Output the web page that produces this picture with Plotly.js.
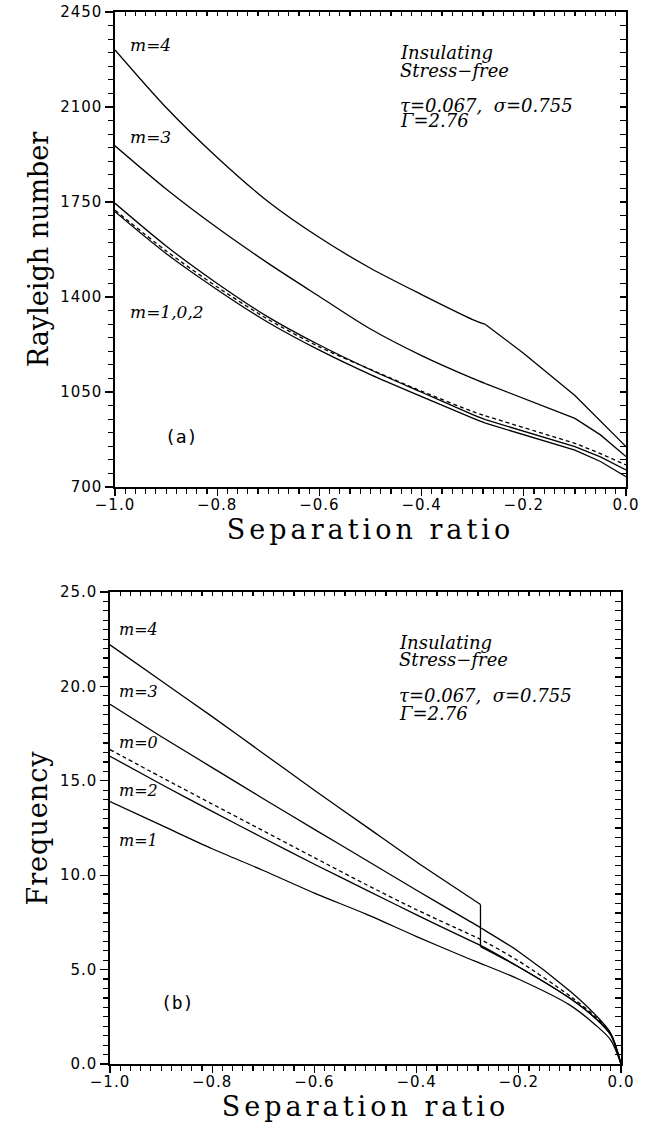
<!DOCTYPE html>
<html>
<head>
<meta charset="utf-8">
<script src="https://cdn.plot.ly/plotly-3.0.1.min.js"></script>
<style>
html,body{margin:0;padding:0;background:#fff;}
#chart{width:659px;height:1122px;}
#chart .xtitle, #chart .x2title{letter-spacing:4px;}
#chart .y2title{letter-spacing:1px;}
#chart .xtick text, #chart .x2tick text, #chart .ytick text, #chart .y2tick text{letter-spacing:1px;}
</style>
</head>
<body>
<div id="chart"></div>
<script>
// ---------- data: panel (a) Rayleigh number ----------
const sepTop = [-1.0, -0.9, -0.8, -0.7, -0.6, -0.5, -0.4, -0.3, -0.275, -0.2, -0.1, -0.05, 0.0];
const rayM4 = [2310, 2098, 1914, 1751, 1619, 1506, 1409, 1317, 1299, 1192, 1037, 942, 849];
const rayM3 = [1957, 1798, 1655, 1524, 1402, 1282, 1184, 1100, 1081, 1026, 953, 892, 812];
const rayM1 = [1745, 1588, 1450, 1326, 1223, 1132, 1049, 967, 948, 905, 849, 811, 763];
const rayM0 = [1720, 1570, 1437, 1317, 1216, 1133, 1053, 978, 962, 919, 861, 823, 781];
const rayM2 = [1714, 1560, 1427, 1306, 1204, 1114, 1033, 954, 935, 892, 836, 794, 738];

// ---------- data: panel (b) Frequency ----------
const sepBot = [-1.0, -0.9, -0.8, -0.7, -0.6, -0.5, -0.4, -0.3, -0.275, -0.2, -0.1, -0.05, -0.02, 0.0];
const sepBotM4 = [-1.0, -0.9, -0.8, -0.7, -0.6, -0.5, -0.4, -0.3, -0.275, -0.275, -0.2, -0.1, -0.05, -0.02, 0.0];
const freqM4 = [22.2, 20.3, 18.4, 16.45, 14.5, 12.6, 10.7, 8.9, 8.45, 6.22, 5.14, 3.48, 2.42, 1.54, 0.0];
const freqM3 = [19.05, 17.35, 15.7, 14.05, 12.43, 10.82, 9.2, 7.62, 7.22, 5.95, 3.87, 2.6, 1.63, 0.0];
const freqM0 = [16.65, 15.2, 13.77, 12.35, 10.93, 9.52, 8.17, 6.92, 6.6, 5.45, 3.6, 2.5, 1.58, 0.0];
const freqM2 = [16.3, 14.82, 13.38, 11.97, 10.58, 9.24, 7.9, 6.6, 6.28, 5.14, 3.48, 2.42, 1.54, 0.0];
const freqM1 = [13.9, 12.65, 11.4, 10.25, 9.05, 7.95, 6.75, 5.6, 5.33, 4.49, 3.12, 2.07, 1.27, 0.0];

// ---------- labels ----------
const xTitle = 'Separation ratio';
const yTitleTop = 'Rayleigh number';
const yTitleBot = 'Frequency';
const infoLines = ['Insulating', 'Stress\u2212free', '\u03C4=0.067,  \u03C3=0.755', '\u0393=2.76'];

const solidL = {color: '#000', width: 1.3, shape: 'linear'};
const solidS = {color: '#000', width: 1.3, shape: 'spline', smoothing: 0.8};
const dashL = {color: '#000', width: 1.3, dash: '4px,3px', shape: 'linear'};
const dashS = {color: '#000', width: 1.3, dash: '4px,3px', shape: 'spline', smoothing: 0.8};

function seg(x, y, i0, i1, line, xa, ya, name) {
  return {x: x.slice(i0, i1 + 1), y: y.slice(i0, i1 + 1), mode: 'lines', line: line,
    xaxis: xa, yaxis: ya, name: name, showlegend: false, hoverinfo: 'skip'};
}
const nT = sepTop.length - 1;
const kT = 8;   // index of -0.275 (kink)
const nB = sepBot.length - 1;
const data = [];
[[rayM4, 'm=4', false], [rayM3, 'm=3', false], [rayM1, 'm=1', false], [rayM0, 'm=0', true], [rayM2, 'm=2', false]].forEach(function (s) {
  data.push(seg(sepTop, s[0], 0, kT, s[2] ? dashS : solidS, 'x', 'y', s[1]));
  data.push(seg(sepTop, s[0], kT, nT, s[2] ? dashL : solidL, 'x', 'y', s[1]));
});
data.push(seg(sepBotM4, freqM4, 0, 8, solidS, 'x2', 'y2', 'm=4'));
data.push(seg(sepBotM4, freqM4, 8, 9, solidL, 'x2', 'y2', 'm=4'));
data.push(seg(sepBotM4, freqM4, 9, sepBotM4.length - 1, solidS, 'x2', 'y2', 'm=4'));
data.push(seg(sepBot, freqM3, 0, nB, solidS, 'x2', 'y2', 'm=3'));
data.push(seg(sepBot, freqM0, 0, nB, dashS, 'x2', 'y2', 'm=0'));
data.push(seg(sepBot, freqM2, 0, nB, solidS, 'x2', 'y2', 'm=2'));
data.push(seg(sepBot, freqM1, 0, nB, solidS, 'x2', 'y2', 'm=1'));
// invisible helpers so the mirrored (inside-tick) axes are drawn
data.push({x: [-1], y: [700], xaxis: 'x3', yaxis: 'y3', mode: 'markers', marker: {opacity: 0}, showlegend: false, hoverinfo: 'skip'});
data.push({x: [-1], y: [0], xaxis: 'x4', yaxis: 'y4', mode: 'markers', marker: {opacity: 0}, showlegend: false, hoverinfo: 'skip'});

const tickFont = {family: 'DejaVu Sans', size: 15, color: '#000'};
const titleFont = {family: 'DejaVu Serif', size: 27, color: '#000'};
const annFont = {family: 'DejaVu Serif', size: 18, color: '#000', style: 'italic'};
const mFontTop = {family: 'DejaVu Serif', size: 17, color: '#000', style: 'italic'};
const mFont = {family: 'DejaVu Serif', size: 16, color: '#000', style: 'italic'};
const tagFont = {family: 'DejaVu Sans Mono', size: 18, color: '#000'};

function baseX(domain, anchor, title) {
  return {domain: domain, anchor: anchor, range: [-1, 0], tick0: -1, dtick: 0.2, tickformat: '.1f',
    ticks: 'outside', ticklen: 7, tickwidth: 1.4, tickcolor: '#000', ticklabelstandoff: -4,
    minor: {dtick: 0.02, ticks: 'outside', ticklen: 5, tickwidth: 1.2, tickcolor: '#000', showgrid: false},
    showline: true, linecolor: '#000', linewidth: 1.6, zeroline: false, showgrid: false,
    tickfont: tickFont, title: {text: title, font: titleFont, standoff: 6}, fixedrange: true};
}
function baseY(domain, anchor, range, dtick, minor, fmt, title) {
  return {domain: domain, anchor: anchor, range: range, tick0: range[0], dtick: dtick, tickformat: fmt,
    ticks: 'outside', ticklen: 8, tickwidth: 1.4, tickcolor: '#000',
    minor: {dtick: minor, ticks: 'outside', ticklen: 5, tickwidth: 1.2, tickcolor: '#000', showgrid: false},
    showline: true, linecolor: '#000', linewidth: 1.6, zeroline: false, showgrid: false,
    tickfont: tickFont, title: {text: title, font: titleFont, standoff: 8}, fixedrange: true};
}
function mirrorX(over, anchor) {
  return {overlaying: over, anchor: anchor, side: 'top', range: [-1, 0], tick0: -1, dtick: 0.02,
    ticks: 'inside', ticklen: 4, tickwidth: 1.2, tickcolor: '#000', showticklabels: false,
    showline: true, linecolor: '#000', linewidth: 1.6, zeroline: false, showgrid: false, fixedrange: true};
}
function mirrorY(over, anchor, range, dtick) {
  return {overlaying: over, anchor: anchor, side: 'right', range: range, tick0: range[0], dtick: dtick,
    ticks: 'inside', ticklen: 6, tickwidth: 1.2, tickcolor: '#000', showticklabels: false,
    showline: true, linecolor: '#000', linewidth: 1.6, zeroline: false, showgrid: false, fixedrange: true};
}

const domXTop = [115/659, 626/659];
const domYTop = [1 - 487/1122, 1 - 12/1122];
const domXBot = [110/659, 621/659];
const domYBot = [1 - 1064/1122, 1 - 592/1122];

function ann(x, y, text, xr, yr, font, xanchor) {
  return {x: x, y: y, xref: xr, yref: yr, text: text, showarrow: false, font: font, xanchor: xanchor || 'left', yanchor: 'middle'};
}
const annotations = [
  ann(-0.975, 2328, '<i>m</i>=4', 'x', 'y', mFontTop),
  ann(-0.975, 1990, '<i>m</i>=3', 'x', 'y', mFontTop),
  ann(-0.975, 1346, '<i>m</i>=1,0,2', 'x', 'y', mFontTop),
  ann(-0.869, 885, '(a)', 'x', 'y', tagFont, 'center'),
  ann(-0.446, 2299, infoLines[0], 'x', 'y', annFont),
  ann(-0.446, 2236, infoLines[1], 'x', 'y', annFont),
  ann(-0.446, 2107, infoLines[2], 'x', 'y', annFont),
  ann(-0.446, 2050, infoLines[3], 'x', 'y', annFont),
  ann(-0.987, 23.0, '<i>m</i>=4', 'x2', 'y2', mFont),
  ann(-0.987, 19.72, '<i>m</i>=3', 'x2', 'y2', mFont),
  ann(-0.987, 17.02, '<i>m</i>=0', 'x2', 'y2', mFont),
  ann(-0.987, 14.51, '<i>m</i>=2', 'x2', 'y2', mFont),
  ann(-0.987, 11.86, '<i>m</i>=1', 'x2', 'y2', mFont),
  ann(-0.868, 3.28, '(b)', 'x2', 'y2', tagFont, 'center'),
  ann(-0.439, 22.3, infoLines[0], 'x2', 'y2', annFont),
  ann(-0.439, 21.4, infoLines[1], 'x2', 'y2', annFont),
  ann(-0.439, 19.54, infoLines[2], 'x2', 'y2', annFont),
  ann(-0.439, 18.54, infoLines[3], 'x2', 'y2', annFont)
];

const layout = {
  width: 659, height: 1122,
  margin: {l: 0, r: 0, t: 0, b: 0},
  paper_bgcolor: '#fff', plot_bgcolor: '#fff',
  showlegend: false,
  xaxis: baseX(domXTop, 'y', xTitle),
  yaxis: baseY(domYTop, 'x', [700, 2450], 350, 50, 'd', yTitleTop),
  xaxis2: baseX(domXBot, 'y2', xTitle),
  yaxis2: baseY(domYBot, 'x2', [0, 25], 5, 0.5, '.1f', yTitleBot),
  xaxis3: mirrorX('x', 'y3'),
  yaxis3: mirrorY('y', 'x3', [700, 2450], 50),
  xaxis4: mirrorX('x2', 'y4'),
  yaxis4: mirrorY('y2', 'x4', [0, 25], 0.5),
  annotations: annotations
};

Plotly.newPlot('chart', data, layout, {displayModeBar: false, staticPlot: true});
</script>
</body>
</html>
